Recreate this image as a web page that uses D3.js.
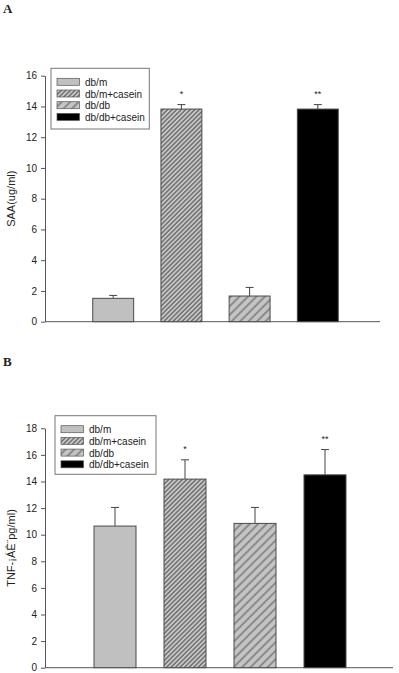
<!DOCTYPE html>
<html>
<head>
<meta charset="utf-8">
<script src="https://cdn.jsdelivr.net/npm/d3@7"></script>
<style>
  body { margin: 0; background: #fff; }
  text { font-family: "Liberation Sans", Arial, sans-serif; fill: #222; }
</style>
</head>
<body>
<svg id="chart"></svg>
<script>
/* DATA */
const groups = ["db/m", "db/m+casein", "db/db", "db/db+casein"];
const fills = ["solid", "dense", "sparse", "black"];

const saaMean = [1.52, 13.83, 1.67, 13.83];
const saaErr = [0.19, 0.29, 0.56, 0.29];
const saaStars = ["", "*", "", "**"];
const saaTicks = [0, 2, 4, 6, 8, 10, 12, 14, 16];

const tnfMean = [10.65, 14.18, 10.85, 14.5];
const tnfErr = [1.4, 1.45, 1.2, 1.9];
const tnfStars = ["", "*", "", "**"];
const tnfTicks = [0, 2, 4, 6, 8, 10, 12, 14, 16, 18];

/* CONSTANTS */
const width = 399, height = 673;

const svg = d3.select("#chart")
  .attr("width", width)
  .attr("height", height);

// hatch patterns for the bars
const defs = svg.append("defs");

const dense = defs.append("pattern")
  .attr("id", "dense")
  .attr("patternUnits", "userSpaceOnUse")
  .attr("width", 3.2)
  .attr("height", 3.2)
  .attr("patternTransform", "rotate(45)");
dense.append("rect").attr("width", 3.2).attr("height", 3.2).attr("fill", "#c8c8c8");
dense.append("line")
  .attr("x1", 0.8).attr("y1", 0).attr("x2", 0.8).attr("y2", 3.2)
  .attr("stroke", "#505050").attr("stroke-width", 1.1);

const sparse = defs.append("pattern")
  .attr("id", "sparse")
  .attr("patternUnits", "userSpaceOnUse")
  .attr("width", 6)
  .attr("height", 6)
  .attr("patternTransform", "rotate(45)");
sparse.append("rect").attr("width", 6).attr("height", 6).attr("fill", "#c4c4c4");
sparse.append("line")
  .attr("x1", 1).attr("y1", 0).attr("x2", 1).attr("y2", 6)
  .attr("stroke", "#444").attr("stroke-width", 0.9);

const fillFor = f => f === "solid" ? "#c0c0c0"
  : f === "black" ? "#000"
  : `url(#${f})`;

// panel letters
svg.append("text").attr("x", 3).attr("y", 13)
  .style("font-family", "'Liberation Serif', 'Times New Roman', serif")
  .style("font-weight", "bold").style("font-size", "13px").text("A");
svg.append("text").attr("x", 3).attr("y", 366)
  .style("font-family", "'Liberation Serif', 'Times New Roman', serif")
  .style("font-weight", "bold").style("font-size", "13px").text("B");

// draws one bar chart panel
function drawPanel(cfg) {
  const y = d3.scaleLinear()
    .domain([0, d3.max(cfg.ticks)])
    .range([cfg.bottom, cfg.top]);

  const x = d3.scaleBand()
    .domain(groups)
    .range([cfg.left, cfg.left + cfg.step * 5])
    .paddingInner(0.4)
    .paddingOuter(0.7);

  const g = svg.append("g");

  // y axis
  const yAxis = g.append("g")
    .attr("transform", `translate(${cfg.left},0)`)
    .call(d3.axisLeft(y).tickValues(cfg.ticks).tickSize(4).tickPadding(4).tickSizeOuter(0));
  yAxis.selectAll("path, line").attr("stroke", "#555");
  yAxis.selectAll("text").style("font-size", "10px")
    .style("font-family", "'Liberation Sans', Arial, sans-serif").attr("fill", "#222");

  // x axis line
  g.append("line")
    .attr("x1", cfg.left).attr("x2", cfg.right)
    .attr("y1", cfg.bottom).attr("y2", cfg.bottom)
    .attr("stroke", "#555");

  const rows = groups.map((d, i) => ({
    group: d, mean: cfg.mean[i], err: cfg.err[i], star: cfg.stars[i], fill: fills[i]
  }));

  // error bars (upper only)
  g.selectAll(".err")
    .data(rows)
    .join("line")
      .attr("x1", d => x(d.group) + x.bandwidth() / 2)
      .attr("x2", d => x(d.group) + x.bandwidth() / 2)
      .attr("y1", d => y(d.mean))
      .attr("y2", d => y(d.mean + d.err))
      .attr("stroke", "#444");
  g.selectAll(".cap")
    .data(rows)
    .join("line")
      .attr("x1", d => x(d.group) + x.bandwidth() / 2 - 4)
      .attr("x2", d => x(d.group) + x.bandwidth() / 2 + 4)
      .attr("y1", d => y(d.mean + d.err))
      .attr("y2", d => y(d.mean + d.err))
      .attr("stroke", "#444");

  // bars
  g.selectAll(".bar")
    .data(rows)
    .join("rect")
      .attr("x", d => x(d.group))
      .attr("y", d => y(d.mean))
      .attr("width", x.bandwidth())
      .attr("height", d => y(0) - y(d.mean))
      .attr("fill", d => fillFor(d.fill))
      .attr("stroke", "#4a4a4a")
      .attr("stroke-width", 1);

  // significance stars
  g.selectAll(".star")
    .data(rows.filter(d => d.star))
    .join("text")
      .attr("x", d => x(d.group) + x.bandwidth() / 2)
      .attr("y", d => y(d.mean + d.err) - 8)
      .attr("text-anchor", "middle")
      .style("font-size", "9px")
      .text(d => d.star);

  // y label
  g.append("text")
    .attr("transform", `translate(${cfg.labelX},${(cfg.top + cfg.bottom) / 2}) rotate(-90)`)
    .attr("text-anchor", "middle")
    .style("font-size", "11px")
    .text(cfg.label);

  // legend
  const lg = g.append("g");
  lg.append("rect")
    .attr("x", cfg.legend.x).attr("y", cfg.legend.y)
    .attr("width", cfg.legend.w).attr("height", cfg.legend.h)
    .attr("fill", "#fff").attr("stroke", "#777");
  const item = lg.selectAll(".item")
    .data(rows)
    .join("g")
      .attr("transform", (d, i) => `translate(${cfg.legend.x + 6},${cfg.legend.y + 13.5 + i * 11.7})`);
  item.append("rect")
    .attr("x", 0).attr("y", -3.5)
    .attr("width", 22.5).attr("height", 7)
    .attr("fill", d => fillFor(d.fill))
    .attr("stroke", "#555").attr("stroke-width", 0.7);
  item.append("text")
    .attr("x", 28).attr("y", 4)
    .style("font-size", "10px")
    .text(d => d.group);
}

drawPanel({
  left: 45, right: 380, top: 75.7, bottom: 321.7, step: 68.2,
  ticks: saaTicks, mean: saaMean, err: saaErr, stars: saaStars,
  label: "SAA(ug/ml)", labelX: 15,
  legend: { x: 51, y: 68.3, w: 98.3, h: 60.7 }
});

drawPanel({
  left: 45, right: 393, top: 428.3, bottom: 667.7, step: 70,
  ticks: tnfTicks, mean: tnfMean, err: tnfErr, stars: tnfStars,
  label: "TNF-¡ÁÊ¨pg/ml)", labelX: 15,
  legend: { x: 55, y: 415.7, w: 101, h: 58.6 }
});
</script>
</body>
</html>
